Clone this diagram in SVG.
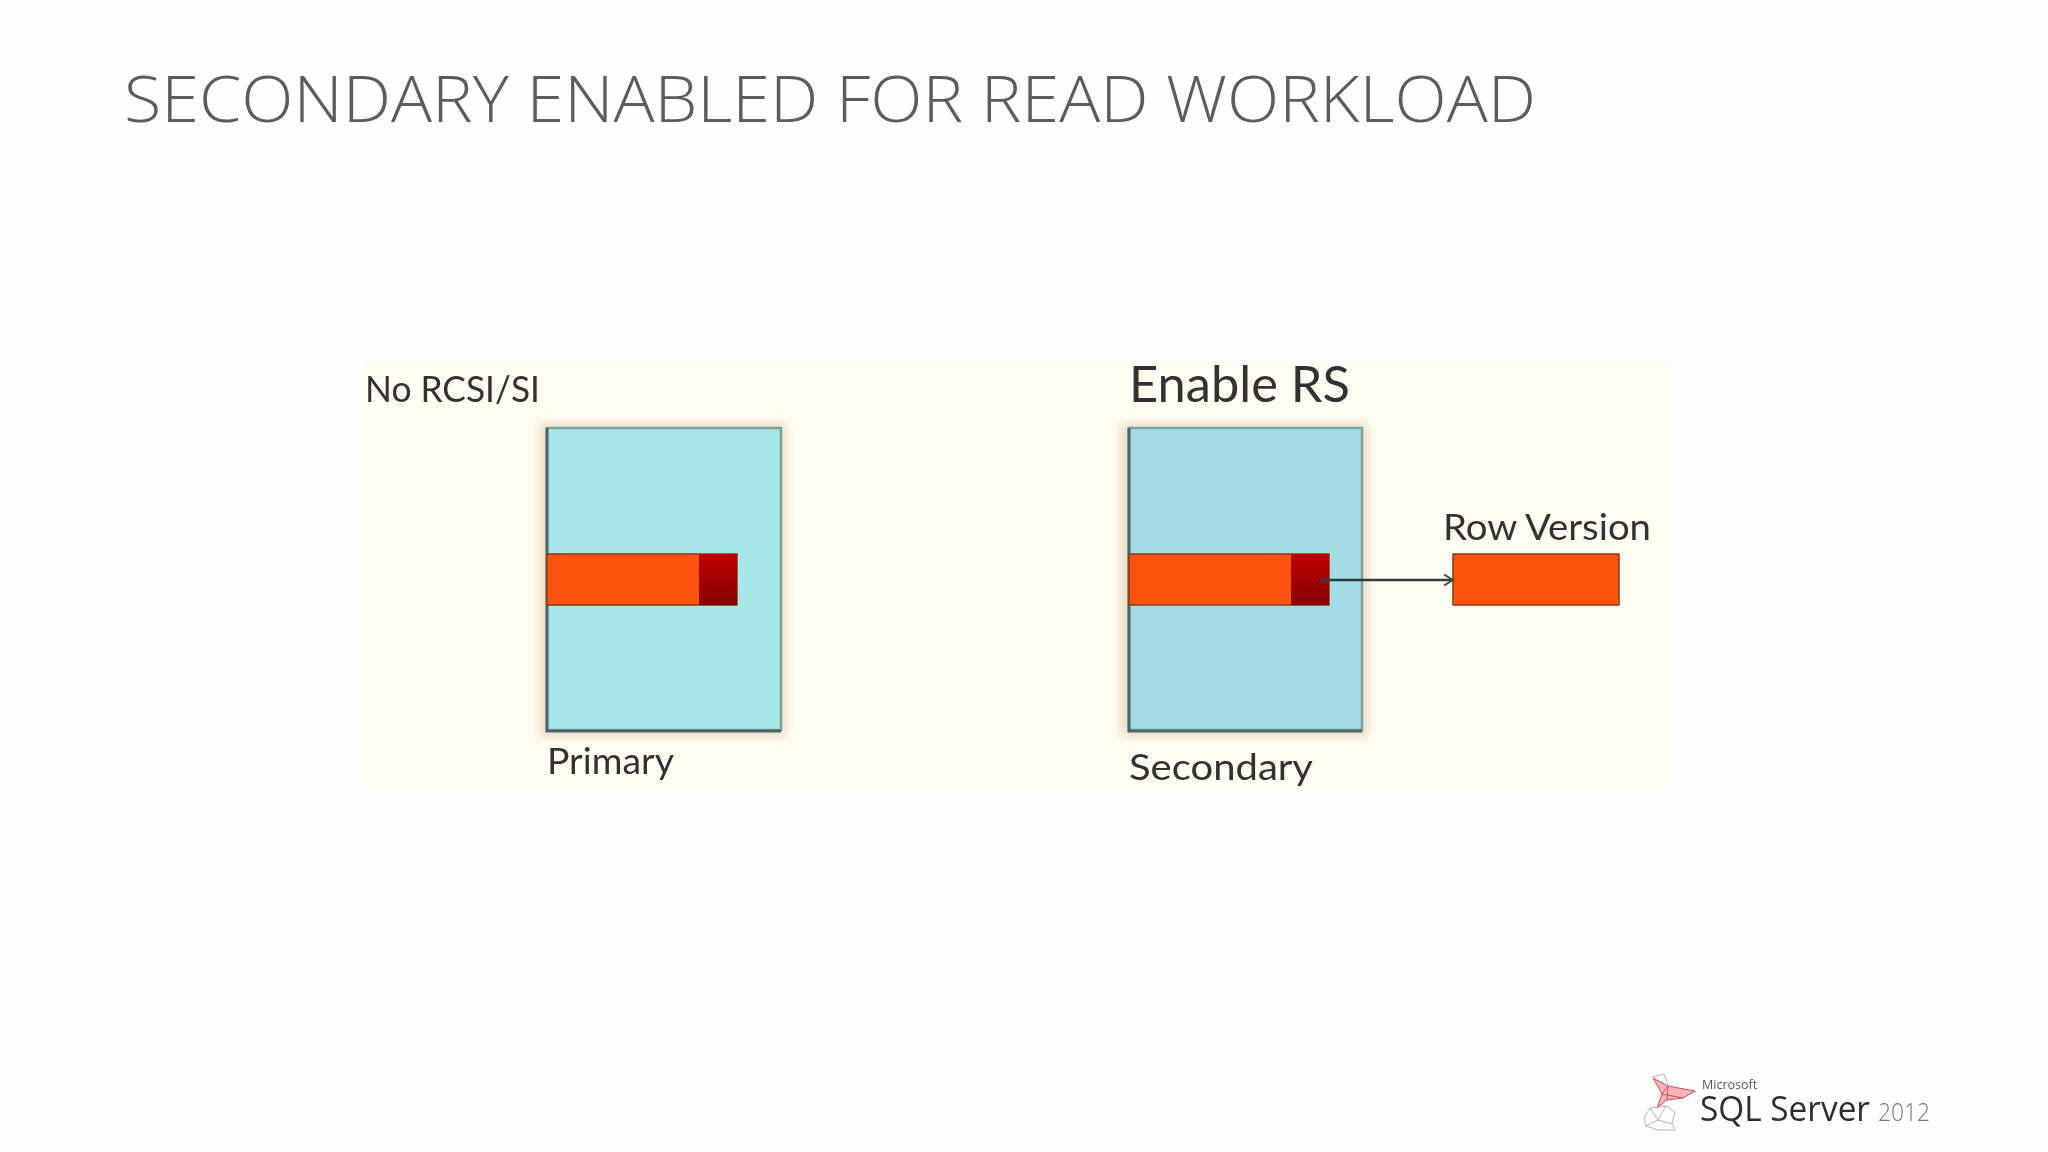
<svg xmlns="http://www.w3.org/2000/svg" width="2048" height="1152" viewBox="0 0 2048 1152">
<style>
.lbl{font-family:"Lato","Open Sans",sans-serif;fill:#333330;filter:url(#soft)}
.box{stroke:#7aa3a6;stroke-width:2.5;filter:url(#soft)}
.edge{fill:none;stroke:#4b6668;stroke-width:3;filter:url(#soft)}
.bar{fill:#fb5207;stroke:#8a3a10;stroke-width:1.5;filter:url(#soft)}
.tip{fill:url(#tipg);filter:url(#soft)}
.mesh{fill:none;stroke:#c9505c;stroke-width:1}
.cloud{fill:none;stroke:#b5b5b5;stroke-width:1}
</style>
<defs>
<filter id="soft" x="-5%" y="-20%" width="110%" height="140%"><feGaussianBlur stdDeviation="0.7"/></filter>
<filter id="glow" x="-10%" y="-10%" width="120%" height="120%"><feGaussianBlur stdDeviation="5"/></filter>
<linearGradient id="tipg" x1="0" y1="0" x2="0" y2="1"><stop offset="0" stop-color="#c20404"/><stop offset="1" stop-color="#860606"/></linearGradient>
<marker id="open" viewBox="0 0 14 14" refX="12" refY="7" markerWidth="14" markerHeight="14" markerUnits="userSpaceOnUse" orient="auto"><path d="M3 1.5L12 7L3 12.5" fill="none" stroke="#3c4a4c" stroke-width="2"/></marker>
</defs>
<rect width="2048" height="1152" fill="#fefefe"/>
<text id="title" x="124" y="122" font-family="'Open Sans',sans-serif" font-weight="300" font-size="65" fill="#5c5c5c" textLength="1412" lengthAdjust="spacingAndGlyphs">SECONDARY ENABLED FOR READ WORKLOAD</text>
<rect id="panel" x="364" y="362" width="1308" height="426" fill="#fffdf1"/>
<g id="primary">
<rect x="539" y="423" width="247" height="314" fill="#e8d4bc" filter="url(#glow)" opacity="0.8"/>
<rect class="box" x="547" y="428" width="234" height="302" fill="#a7e7ea"/>
<path class="edge" d="M547 428V731H781"/>
<text class="lbl" x="547" y="774" font-size="37" textLength="127" lengthAdjust="spacingAndGlyphs">Primary</text>
</g>
<g id="primary-record">
<rect class="bar" x="547" y="554" width="190" height="51"/>
<rect class="tip" x="699" y="554" width="38" height="51"/>
</g>
<text id="no-rcsi" class="lbl" x="365" y="402" font-size="37" textLength="175" lengthAdjust="spacingAndGlyphs">No RCSI/SI</text>
<g id="secondary">
<rect x="1121" y="423" width="247" height="314" fill="#e8d4bc" filter="url(#glow)" opacity="0.8"/>
<rect class="box" x="1129" y="428" width="233" height="302" fill="#a2dde5"/>
<path class="edge" d="M1129 428V731H1362"/>
<text class="lbl" x="1129" y="780" font-size="37" textLength="184" lengthAdjust="spacingAndGlyphs">Secondary</text>
</g>
<g id="secondary-record">
<rect class="bar" x="1129" y="554" width="200" height="51"/>
<rect class="tip" x="1291" y="554" width="38" height="51"/>
</g>
<text id="enable-rs" class="lbl" x="1129" y="402" font-size="50" textLength="221" lengthAdjust="spacingAndGlyphs">Enable RS</text>
<g id="row-version">
<text class="lbl" x="1443" y="540" font-size="37" textLength="208" lengthAdjust="spacingAndGlyphs">Row Version</text>
<rect class="bar" x="1453" y="554" width="166" height="51"/>
</g>
<g id="connectors">
<line x1="1319" y1="580" x2="1453" y2="580" stroke="#2f3c3e" stroke-width="2.5" marker-end="url(#open)"/>
</g>
<g id="logo">
<path d="M1653 1078L1668 1086L1695 1091L1683 1098L1667 1100L1657 1108L1662 1094Z" fill="#f5b5ba"/>
<path class="mesh" d="M1653 1078L1668 1086L1695 1091L1683 1098L1667 1100L1657 1108L1662 1094ZM1668 1086L1662 1094L1683 1098M1668 1086L1667 1100"/>
<path class="cloud" d="M1652 1077L1664 1074L1668 1085M1644 1118L1650 1108L1666 1106L1675 1112L1672 1124L1675 1130L1658 1130L1646 1126ZM1650 1108L1658 1120L1666 1106M1658 1120L1672 1124M1646 1126L1658 1120"/>
<text x="1702" y="1089" font-family="'Open Sans',sans-serif" font-size="12.5" fill="#555" filter="url(#soft)">Microsoft</text>
<text x="1700" y="1121" font-family="'Open Sans',sans-serif" font-size="35" fill="#2e2e2e" textLength="170" lengthAdjust="spacingAndGlyphs" filter="url(#soft)">SQL Server</text>
<text x="1878" y="1121" font-family="'Open Sans',sans-serif" font-weight="300" font-size="26" fill="#777" textLength="52" lengthAdjust="spacingAndGlyphs" filter="url(#soft)">2012</text>
</g>
</svg>
